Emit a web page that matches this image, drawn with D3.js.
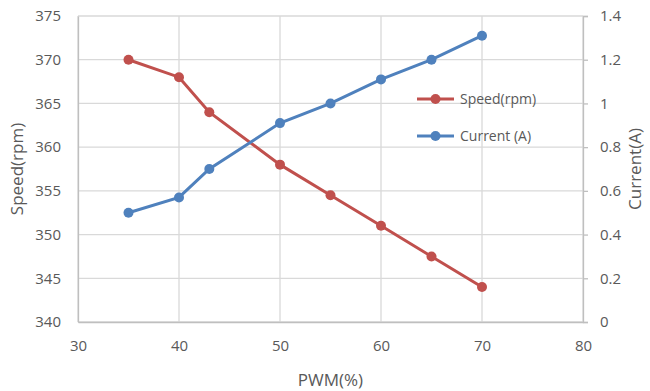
<!DOCTYPE html>
<html>
<head>
<meta charset="utf-8">
<script src="https://cdn.jsdelivr.net/npm/d3@7"></script>
<style>
  body { margin: 0; background: #fff; }
  text { font-family: "Open Sans", "Liberation Sans", sans-serif; fill: #595959; }
</style>
</head>
<body>
<div id="chart"></div>
<script>
// chart size and plot area
const width = 650;
const height = 391;
const margin = {left: 78, right: 67, top: 16, bottom: 69};

// data
const pwm = [35, 40, 43, 50, 55, 60, 65, 70];
const speed = [370, 368, 364, 358, 354.5, 351, 347.5, 344];
const current = [0.5, 0.57, 0.7, 0.91, 1.0, 1.11, 1.2, 1.31];
const xTicks = [30, 40, 50, 60, 70, 80];
const speedTicks = [340, 345, 350, 355, 360, 365, 370, 375];
const currentTicks = [0, 0.2, 0.4, 0.6, 0.8, 1, 1.2, 1.4];
const seriesNames = ["Speed(rpm)", "Current (A)"];

const red = "#C0504D";
const blue = "#4F81BD";
const grid = "#D9D9D9";

const svg = d3.select("#chart")
  .append("svg")
  .attr("width", width)
  .attr("height", height);

// scales
const x = d3.scaleLinear()
  .domain([30, 80])
  .range([margin.left, width - margin.right]);

const yLeft = d3.scaleLinear()
  .domain([340, 375])
  .range([height - margin.bottom, margin.top]);

const yRight = d3.scaleLinear()
  .domain([0, 1.4])
  .range([height - margin.bottom, margin.top]);

// gridlines
svg.append("g")
  .selectAll("line")
  .data(speedTicks)
  .join("line")
    .attr("x1", margin.left)
    .attr("x2", width - margin.right)
    .attr("y1", d => yLeft(d))
    .attr("y2", d => yLeft(d))
    .attr("stroke", grid)
    .attr("stroke-width", 1.3);

svg.append("g")
  .selectAll("line")
  .data(xTicks)
  .join("line")
    .attr("x1", d => x(d))
    .attr("x2", d => x(d))
    .attr("y1", margin.top)
    .attr("y2", height - margin.bottom)
    .attr("stroke", grid)
    .attr("stroke-width", 1.3);

// axes
const xAxis = svg.append("g")
  .attr("transform", `translate(0,${height - margin.bottom})`)
  .call(d3.axisBottom(x).tickValues(xTicks).tickSize(0).tickPadding(18));

const leftAxis = svg.append("g")
  .attr("transform", `translate(${margin.left},0)`)
  .call(d3.axisLeft(yLeft).tickValues(speedTicks).tickSize(0).tickPadding(17));

const rightAxis = svg.append("g")
  .attr("transform", `translate(${width - margin.right},0)`)
  .call(d3.axisRight(yRight).tickValues(currentTicks).tickSize(5).tickPadding(12)
    .tickFormat(d => d3.format("")(+d.toFixed(1))));

[xAxis, leftAxis, rightAxis].forEach(g => {
  g.select(".domain").attr("stroke", "#BFBFBF").attr("stroke-width", 1.3);
  g.selectAll(".tick line").attr("stroke", "#BFBFBF").attr("stroke-width", 1.3);
  g.selectAll("text").attr("font-size", "15px").attr("fill", "#595959")
    .style("font-family", "'Open Sans', sans-serif");
});

// axis titles
svg.append("text")
  .attr("x", (margin.left + width - margin.right) / 2)
  .attr("y", 386)
  .attr("text-anchor", "middle")
  .attr("font-size", "17px")
  .text("PWM(%)");

svg.append("text")
  .attr("transform", `translate(23,${(margin.top + height - margin.bottom) / 2}) rotate(-90)`)
  .attr("text-anchor", "middle")
  .attr("font-size", "17px")
  .text("Speed(rpm)");

svg.append("text")
  .attr("transform", `translate(641,${(margin.top + height - margin.bottom) / 2}) rotate(-90)`)
  .attr("text-anchor", "middle")
  .attr("font-size", "17px")
  .text("Current(A)");

// lines and markers
const speedData = pwm.map((p, i) => ({x: p, y: speed[i]}));
const currentData = pwm.map((p, i) => ({x: p, y: current[i]}));

function drawSeries(data, yScale, color) {
  svg.append("path")
    .datum(data)
    .attr("fill", "none")
    .attr("stroke", color)
    .attr("stroke-width", 3)
    .attr("d", d3.line().x(d => x(d.x)).y(d => yScale(d.y)));

  svg.append("g")
    .selectAll("circle")
    .data(data)
    .join("circle")
      .attr("cx", d => x(d.x))
      .attr("cy", d => yScale(d.y))
      .attr("r", 5)
      .attr("fill", color);
}

drawSeries(speedData, yLeft, red);
drawSeries(currentData, yRight, blue);

// legend
const legend = svg.append("g").attr("transform", "translate(417,99)");
[red, blue].forEach((c, i) => {
  const row = legend.append("g").attr("transform", `translate(0,${i * 37})`);
  row.append("line").attr("x1", 0).attr("x2", 37).attr("stroke", c).attr("stroke-width", 3);
  row.append("circle").attr("cx", 18.5).attr("r", 5).attr("fill", c);
  row.append("text")
    .attr("x", 43)
    .attr("y", 5)
    .attr("font-size", "14px")
    .text(seriesNames[i]);
});
</script>
</body>
</html>
